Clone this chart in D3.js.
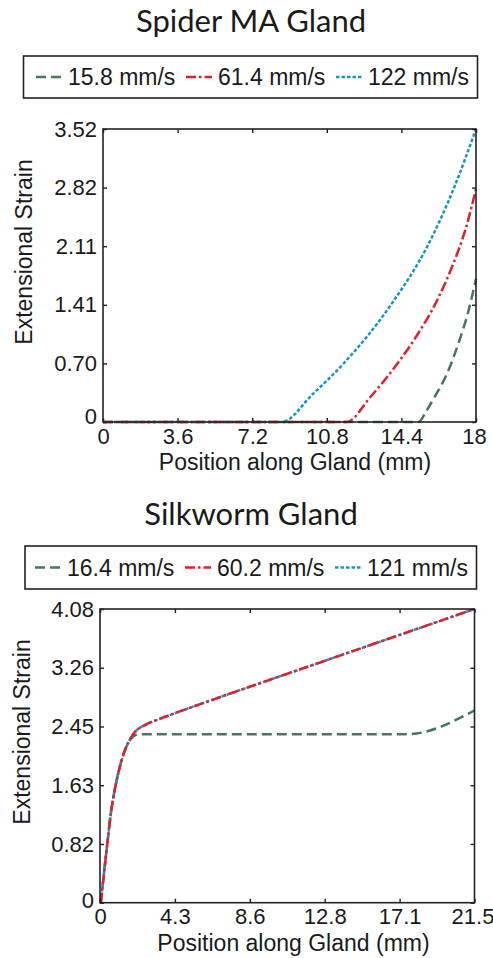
<!DOCTYPE html>
<html>
<head>
<meta charset="utf-8">
<script src="https://cdn.jsdelivr.net/npm/d3@7"></script>
<style>
  body { margin: 0; background: #fff; }
  svg text { font-family: "Liberation Sans", Arial, Helvetica, sans-serif; fill: #1a1a1a; }
  svg text.title { font-family: "Lato", "Open Sans", sans-serif; }
</style>
</head>
<body>
<svg id="fig" width="493" height="958"></svg>
<script>
// ---------- Spider MA gland ----------
const spiderSpeeds = ["15.8 mm/s", "61.4 mm/s", "122 mm/s"];
const spiderSlow = [[0,0],[15.22,0],[15.6,0.13],[16.0,0.3],[16.6,0.58],[17.2,0.98],[17.6,1.3],[18,1.72]];
const spiderMid  = [[0,0],[11.75,0],[12.9,0.3],[14.2,0.70],[15.2,1.06],[16.1,1.45],[16.9,1.9],[17.5,2.32],[18,2.80]];
const spiderFast = [[0,0],[8.62,0],[10.1,0.33],[11.6,0.70],[13.9,1.41],[15.65,2.11],[16.95,2.82],[18,3.52]];
const spiderXTicks = [0, 3.6, 7.2, 10.8, 14.4, 18];
const spiderXLabels = ["0", "3.6", "7.2", "10.8", "14.4", "18"];
const spiderYTicks = [0, 0.704, 1.408, 2.112, 2.816, 3.52];
const spiderYLabels = ["0", "0.70", "1.41", "2.11", "2.82", "3.52"];

// ---------- Silkworm gland ----------
const silkSpeeds = ["16.4 mm/s", "60.2 mm/s", "121 mm/s"];
const silkSlow = [[0.05,0],[0.2,0.35],[0.42,0.82],[0.6,1.2],[0.77,1.47],[1.05,1.8],[1.45,2.13],[1.75,2.27],[2.05,2.33],[2.5,2.34],[17.6,2.34],[21.5,2.67]];
const silkMid  = [[0.05,0],[0.2,0.35],[0.42,0.82],[0.6,1.2],[0.77,1.47],[1.05,1.8],[1.45,2.13],[1.75,2.28],[2.0,2.37],[2.6,2.47],[3.5,2.56],[4.5,2.65],[6.0,2.78],[8.6,3.0],[12.9,3.36],[17.2,3.72],[21.5,4.08]];
const silkFast = [[0.05,0],[0.2,0.35],[0.42,0.82],[0.6,1.2],[0.77,1.47],[1.05,1.8],[1.45,2.13],[1.75,2.28],[2.0,2.37],[2.6,2.47],[3.5,2.56],[4.5,2.65],[6.0,2.78],[8.6,3.0],[12.9,3.36],[17.2,3.72],[21.5,4.08]];
const silkXTicks = [0, 4.3, 8.6, 12.9, 17.2, 21.5];
const silkXLabels = ["0", "4.3", "8.6", "12.8", "17.1", "21.5"];
const silkYTicks = [0, 0.816, 1.632, 2.448, 3.264, 4.08];
const silkYLabels = ["0", "0.82", "1.63", "2.45", "3.26", "4.08"];

// line styles: slow = dashed, mid = dash-dot, fast = dotted
const styles = [
  { color: "#47785a", dash: "10,5" },
  { color: "#e21f2f", dash: "10,3,2.5,3" },
  { color: "#1996be", dash: "3.5,2" }
];

const svg = d3.select("#fig");

function panel(cfg) {
  const g = svg.append("g");
  const x = d3.scaleLinear().domain([0, cfg.xTicks[cfg.xTicks.length - 1]]).range([cfg.left, cfg.right]);
  const y = d3.scaleLinear().domain([0, cfg.yTicks[cfg.yTicks.length - 1]]).range([cfg.bottom, cfg.top]);

  // title
  g.append("text").attr("class", "title")
    .attr("x", cfg.titleX).attr("y", cfg.titleY)
    .attr("text-anchor", "middle").attr("font-size", 31)
    .text(cfg.title);

  // legend box
  const lg = g.append("g");
  lg.append("rect")
    .attr("x", cfg.legend.x).attr("y", cfg.legend.y)
    .attr("width", cfg.legend.w).attr("height", cfg.legend.h)
    .attr("fill", "#fff").attr("stroke", "#222").attr("stroke-width", 1.6);
  const ly = cfg.legend.y + cfg.legend.h / 2;
  cfg.legend.items.forEach((it, i) => {
    lg.append("line")
      .attr("x1", it.x).attr("x2", it.x + 26)
      .attr("y1", ly).attr("y2", ly)
      .attr("stroke", styles[i].color).attr("stroke-width", 2.4)
      .attr("stroke-dasharray", styles[i].dash);
    lg.append("text")
      .attr("x", it.x + 32).attr("y", ly)
      .attr("dy", "0.36em").attr("font-size", 23)
      .text(cfg.speeds[i]);
  });

  // curves
  const line = d3.line().x(d => x(d[0])).y(d => y(d[1])).curve(d3.curveMonotoneX);
  const order = [0, 2, 1];
  order.forEach(i => {
    g.append("path")
      .attr("d", line(cfg.series[i]))
      .attr("fill", "none")
      .attr("stroke", styles[i].color)
      .attr("stroke-width", 2.5)
      .attr("stroke-dasharray", styles[i].dash);
  });

  // axes with inward ticks on all four sides
  const fmtX = (d, i) => cfg.xLabels[i];
  const fmtY = (d, i) => cfg.yLabels[i];
  const axB = g.append("g").attr("transform", `translate(0,${cfg.bottom})`)
    .call(d3.axisBottom(x).tickValues(cfg.xTicks).tickFormat(fmtX).tickSizeInner(-4).tickSizeOuter(0));
  const axL = g.append("g").attr("transform", `translate(${cfg.left},0)`)
    .call(d3.axisLeft(y).tickValues(cfg.yTicks).tickFormat(fmtY).tickSizeInner(-4).tickSizeOuter(0).tickPadding(6));
  g.append("g").attr("transform", `translate(0,${cfg.top})`)
    .call(d3.axisTop(x).tickValues(cfg.xTicks).tickFormat("").tickSizeInner(-4).tickSizeOuter(0));
  g.append("g").attr("transform", `translate(${cfg.right},0)`)
    .call(d3.axisRight(y).tickValues(cfg.yTicks).tickFormat("").tickSizeInner(-4).tickSizeOuter(0));

  g.selectAll(".domain").remove();
  g.selectAll(".tick line").attr("stroke", "#222").attr("stroke-width", 1.4);
  g.selectAll(".tick text").attr("font-size", 22).attr("font-family", null).attr("fill", "#1a1a1a");
  axB.selectAll(".tick text").attr("y", cfg.tickBaseline).attr("dy", 0);
  axB.selectAll(".tick:last-of-type text").attr("dx", -2);
  axL.selectAll(".tick:first-of-type text").attr("dy", cfg.zeroDy);

  // frame
  g.append("rect")
    .attr("x", cfg.left).attr("y", cfg.top)
    .attr("width", cfg.right - cfg.left).attr("height", cfg.bottom - cfg.top)
    .attr("fill", "none").attr("stroke", "#222").attr("stroke-width", 1.6);

  // axis titles
  g.append("text")
    .attr("x", cfg.xLabelX).attr("y", cfg.xLabelY)
    .attr("text-anchor", "middle").attr("font-size", 23)
    .text("Position along Gland (mm)");
  g.append("text")
    .attr("transform", `translate(${cfg.yLabelX},${cfg.yLabelY}) rotate(-90)`)
    .attr("text-anchor", "middle").attr("font-size", 23)
    .text("Extensional Strain");
}

panel({
  title: "Spider MA Gland", titleX: 251, titleY: 32,
  speeds: spiderSpeeds,
  series: [spiderSlow, spiderMid, spiderFast],
  xTicks: spiderXTicks, xLabels: spiderXLabels,
  yTicks: spiderYTicks, yLabels: spiderYLabels,
  left: 103, right: 476, top: 129, bottom: 422,
  tickBaseline: 22, zeroDy: "0.05em",
  legend: { x: 23.5, y: 56, w: 454, h: 42, items: [{ x: 36 }, { x: 186 }, { x: 336 }] },
  xLabelX: 295, xLabelY: 470,
  yLabelX: 32, yLabelY: 252
});

panel({
  title: "Silkworm Gland", titleX: 251, titleY: 525,
  speeds: silkSpeeds,
  series: [silkSlow, silkMid, silkFast],
  xTicks: silkXTicks, xLabels: silkXLabels,
  yTicks: silkYTicks, yLabels: silkYLabels,
  left: 100, right: 474.5, top: 609, bottom: 902.7,
  tickBaseline: 21, zeroDy: "0.2em",
  legend: { x: 25, y: 546, w: 451.5, h: 43, items: [{ x: 35 }, { x: 185 }, { x: 335 }] },
  xLabelX: 293.5, xLabelY: 951,
  yLabelX: 30, yLabelY: 732
});
</script>
</body>
</html>
